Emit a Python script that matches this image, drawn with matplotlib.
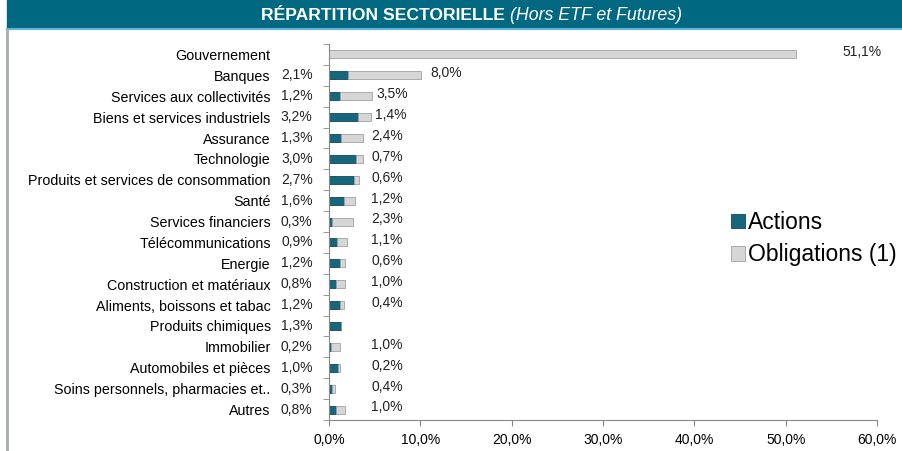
import matplotlib
matplotlib.use("Agg")
import matplotlib.pyplot as plt
from matplotlib.patches import Rectangle
from matplotlib.lines import Line2D

plt.rcParams['font.family'] = ['Liberation Sans', 'DejaVu Sans']

# data
secteurs = [
    "Gouvernement", "Banques", "Services aux collectivités",
    "Biens et services industriels", "Assurance", "Technologie",
    "Produits et services de consommation", "Santé", "Services financiers",
    "Télécommunications", "Energie", "Construction et matériaux",
    "Aliments, boissons et tabac", "Produits chimiques", "Immobilier",
    "Automobiles et pièces", "Soins personnels, pharmacies et..", "Autres",
]
actions = [0.0, 2.1, 1.2, 3.2, 1.3, 3.0, 2.7, 1.6, 0.3,
           0.9, 1.2, 0.8, 1.2, 1.3, 0.2, 1.0, 0.3, 0.8]
obligations = [51.1, 8.0, 3.5, 1.4, 2.4, 0.7, 0.6, 1.2, 2.3,
               1.1, 0.6, 1.0, 0.4, 0.0, 1.0, 0.2, 0.4, 1.0]
xticks = [0, 10, 20, 30, 40, 50, 60]

teal = "#17667c"
gris = "#d6d6d6"

fig = plt.figure(figsize=(9.02, 4.51), dpi=100)

# banner + frame
fig.patches.append(Rectangle((7 / 902, 1 - 28 / 451), 1 - 7 / 902, 28 / 451,
                             transform=fig.transFigure, color="#006880", zorder=0))
fig.lines.append(Line2D([7 / 902, 1], [1 - 29 / 451] * 2, transform=fig.transFigure,
                        color="#5fb4dc", lw=1.5))
fig.lines.append(Line2D([7.5 / 902] * 2, [0, 1 - 30 / 451], transform=fig.transFigure,
                        color="#a8acae", lw=2))
fig.text(505 / 902, 1 - 15 / 451, "RÉPARTITION SECTORIELLE", color="white",
         fontsize=12.6, fontweight="bold", ha="right", va="center")
fig.text(510 / 902, 1 - 15 / 451, "(Hors ETF et Futures)", color="white",
         fontsize=12.8, fontstyle="italic", ha="left", va="center")

ax = fig.add_axes([329 / 902, 31 / 451, 548 / 902, 376 / 451])
y = list(range(len(secteurs)))
ax.barh(y, actions, height=0.38, color=teal, edgecolor="#0d4a5a", lw=0.6, label="Actions")
ax.barh(y, obligations, left=actions, height=0.38, color=gris, edgecolor="#a0a0a0",
        lw=0.6, label="Obligations (1)")

for i, (a, o) in enumerate(zip(actions, obligations)):
    if a > 0:
        ax.text(-1.8, i, f"{a:.1f}%".replace(".", ","), ha="right", va="center",
                fontsize=10, color="#222222")
    if o > 0:
        x = max((a + o) * 1.1, 4.6)
        ax.text(x, i - 0.1, f"{o:.1f}%".replace(".", ","), ha="left", va="center",
                fontsize=10, color="#222222")

ax.set_xlim(0, 60)
ax.set_ylim(len(secteurs) - 0.5, -0.5)
ax.set_xticks(xticks)
ax.set_xticklabels([f"{v:.1f}%".replace(".", ",") for v in xticks], fontsize=10)
ax.set_yticks(y)
ax.set_yticklabels(secteurs, fontsize=10.3)
ax.set_yticks([i - 0.5 for i in range(len(secteurs) + 1)], minor=True)
ax.tick_params(axis="y", which="major", length=0, pad=42)
ax.tick_params(axis="y", which="minor", length=4, color="#888888")
ax.tick_params(axis="x", length=4, color="#888888", pad=5)
for s in ["top", "right"]:
    ax.spines[s].set_visible(False)
for s in ["left", "bottom"]:
    ax.spines[s].set_color("#888888")

fig.legend(loc="upper left", bbox_to_anchor=(722 / 902, 1 - 202 / 451), frameon=False,
           fontsize=16.5, handlelength=0.6, handleheight=0.6, handletextpad=0.15,
           labelspacing=0.4, borderaxespad=0)

fig.savefig("out.png", dpi=100)
